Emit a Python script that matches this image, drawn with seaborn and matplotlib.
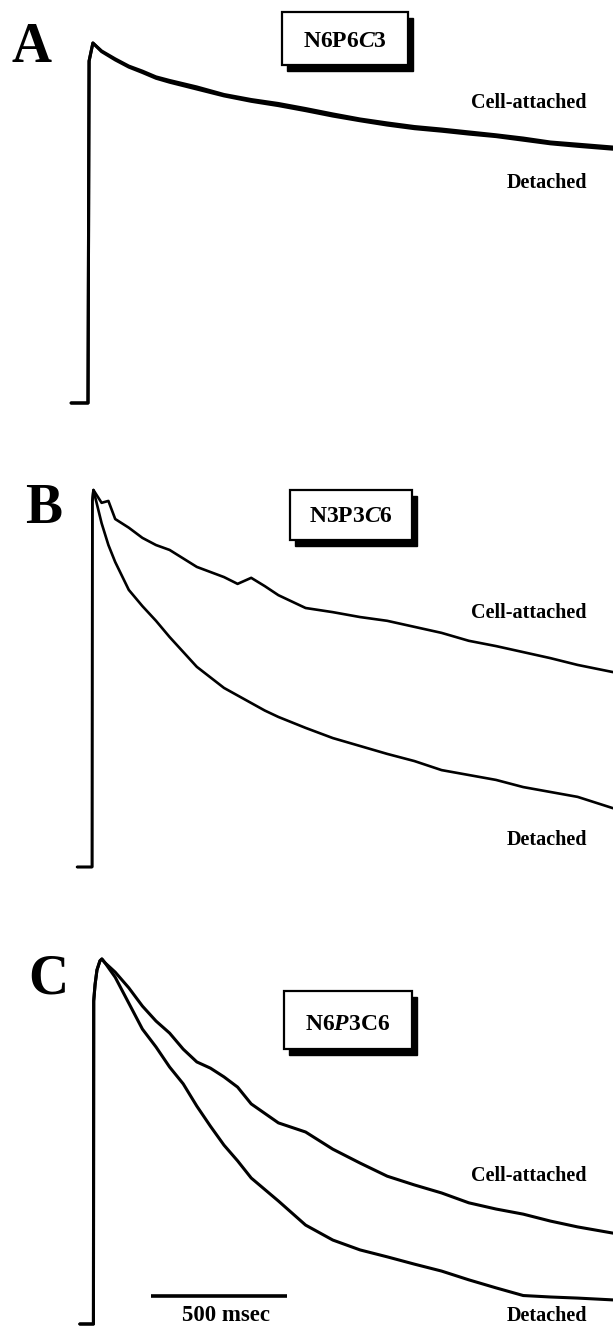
import matplotlib
matplotlib.use("Agg")
import pandas as pd
import matplotlib.pyplot as plt
from matplotlib.patches import Rectangle
import seaborn as sns

# normalized current (fraction of peak) vs time (msec)
time_a = [-62, 0, 4, 18, 50, 100, 150, 200, 250, 300, 400, 500, 600, 700, 800, 900,
          1000, 1100, 1200, 1300, 1400, 1500, 1600, 1700, 1800, 1930]
cell_a = [0, 0, 0.95, 1.0, 0.978, 0.956, 0.936, 0.922, 0.906, 0.896, 0.878, 0.857, 0.843,
          0.832, 0.818, 0.803, 0.789, 0.778, 0.768, 0.761, 0.753, 0.745, 0.736, 0.725,
          0.719, 0.711]
det_a = [0, 0, 0.95, 1.0, 0.976, 0.953, 0.933, 0.918, 0.902, 0.891, 0.872, 0.853, 0.838,
         0.826, 0.812, 0.797, 0.784, 0.772, 0.762, 0.755, 0.747, 0.740, 0.730, 0.720,
         0.713, 0.705]

time_b = [-40, 15, 16, 20, 50, 75, 100, 150, 200, 250, 300, 400, 500, 550, 600, 650, 700,
          800, 900, 1000, 1100, 1200, 1300, 1400, 1500, 1600, 1700, 1800, 1930]
cell_b = [0, 0, 0.97, 1.0, 0.966, 0.971, 0.923, 0.9, 0.873, 0.854, 0.841, 0.796, 0.769,
          0.751, 0.767, 0.745, 0.721, 0.687, 0.676, 0.663, 0.653, 0.637, 0.621, 0.60,
          0.586, 0.570, 0.554, 0.536, 0.517]
det_b = [0, 0, 0.97, 1.0, 0.912, 0.854, 0.809, 0.735, 0.692, 0.653, 0.61, 0.531, 0.475,
         0.455, 0.435, 0.415, 0.398, 0.369, 0.342, 0.321, 0.3, 0.281, 0.257, 0.244, 0.231,
         0.212, 0.199, 0.186, 0.156]

time_c = [-30, 20, 21, 26, 33, 44, 51, 62, 100, 150, 200, 250, 300, 350, 400, 450, 500,
          550, 600, 700, 800, 900, 1000, 1100, 1200, 1300, 1400, 1500, 1600, 1700, 1800, 1930]
cell_c = [0, 0, 0.885, 0.93, 0.97, 0.995, 1.0, 0.99, 0.964, 0.921, 0.871, 0.830, 0.797,
          0.753, 0.718, 0.701, 0.677, 0.649, 0.603, 0.551, 0.526, 0.479, 0.441, 0.405,
          0.381, 0.359, 0.332, 0.315, 0.301, 0.282, 0.266, 0.249]
det_c = [0, 0, 0.885, 0.93, 0.97, 0.995, 1.0, 0.99, 0.95, 0.879, 0.808, 0.759, 0.704,
         0.658, 0.597, 0.542, 0.490, 0.447, 0.4, 0.337, 0.271, 0.230, 0.203, 0.184, 0.164,
         0.145, 0.121, 0.099, 0.078, 0.074, 0.071, 0.066]

panel_letters = ['A', 'B', 'C']
construct_labels = [r'$\mathrm{N6P6}\mathit{C3}$', r'$\mathrm{N3P3}\mathit{C6}$',
                    r'$\mathrm{N6}\mathit{P3}\mathrm{C6}$']
scale_ms = 500

sns.set_theme(style="white")
plt.rcParams['font.family'] = ['Liberation Serif', 'DejaVu Serif']
plt.rcParams['text.color'] = 'black'
plt.rcParams['mathtext.fontset'] = 'custom'
plt.rcParams['mathtext.rm'] = 'Liberation Serif:bold'
plt.rcParams['mathtext.it'] = 'Liberation Serif:italic:bold'
plt.rcParams['mathtext.bf'] = 'Liberation Serif:bold'

W, H = 613, 1327
PX_PER_MS = 0.272
X0 = 88  # pixel of time zero
T0, T1 = -X0 / PX_PER_MS, (W - X0) / PX_PER_MS


def fx(x):
    return x / W


def fy(y):
    return 1 - y / H


def long_df(t, cell, det):
    return pd.concat([
        pd.DataFrame({'time': t, 'current': cell, 'trace': 'Cell-attached'}),
        pd.DataFrame({'time': t, 'current': det, 'trace': 'Detached'}),
    ], ignore_index=True)


fig = plt.figure(figsize=(W / 100, H / 100), dpi=100)

# (time, cell, det, baseline px, amplitude px, line width)
panels = [
    (time_a, cell_a, det_a, 403, 360, 2.2),
    (time_b, cell_b, det_b, 867, 377, 1.9),
    (time_c, cell_c, det_c, 1324, 365, 2.2),
]
lo, hi = -0.2, 1.15
axes = []
for t, cell, det, base, amp, lw in panels:
    bottom = base - lo * amp
    top = base - hi * amp
    ax = fig.add_axes([0, fy(bottom), 1, (bottom - top) / H])
    df = long_df(t, cell, det)
    sns.lineplot(data=df, x='time', y='current', hue='trace', palette=['black', 'black'],
                 estimator=None, sort=False, lw=lw, legend=False, ax=ax)
    ax.set_xlim(T0, T1)
    ax.set_ylim(lo, hi)
    ax.axis('off')
    axes.append(ax)

# scale bar in panel C
bar_start = (151 - X0) / PX_PER_MS
axes[2].hlines(0.077, bar_start, bar_start + scale_ms, color='black', lw=2.6)
fig.text(fx(226), fy(1321), f'{scale_ms} msec', ha='center', va='baseline',
         fontsize=16.5, fontweight='bold')

# panel letters
for letter, (x, y) in zip(panel_letters, [(12, 62), (25, 523), (28, 993)]):
    fig.text(fx(x), fy(y), letter, ha='left', va='baseline', fontsize=40, fontweight='bold')

# boxed construct names with drop shadow
boxes = [(282, 12, 408, 65, 47), (290, 490, 412, 540, 522), (284, 991, 412, 1049, 1030)]
for label, (x0, y0, x1, y1, bl) in zip(construct_labels, boxes):
    fig.add_artist(Rectangle((fx(x0 + 5), fy(y1 + 6)), (x1 - x0) / W, (y1 - y0) / H,
                             transform=fig.transFigure, fc='black', ec='black', lw=1,
                             zorder=4))
    fig.add_artist(Rectangle((fx(x0), fy(y1)), (x1 - x0) / W, (y1 - y0) / H,
                             transform=fig.transFigure, fc='white', ec='black', lw=1.6,
                             zorder=5))
    fig.text(fx((x0 + x1) / 2), fy(bl), label, ha='center', va='baseline',
             fontsize=17, zorder=6)

# trace labels
trace_labels = [('Cell-attached', 108), ('Detached', 188), ('Cell-attached', 618),
                ('Detached', 845), ('Cell-attached', 1181), ('Detached', 1321)]
for text, y in trace_labels:
    fig.text(fx(587), fy(y), text, ha='right', va='baseline', fontsize=14.5,
             fontweight='bold')

fig.savefig('out.png', dpi=100, facecolor='white')
